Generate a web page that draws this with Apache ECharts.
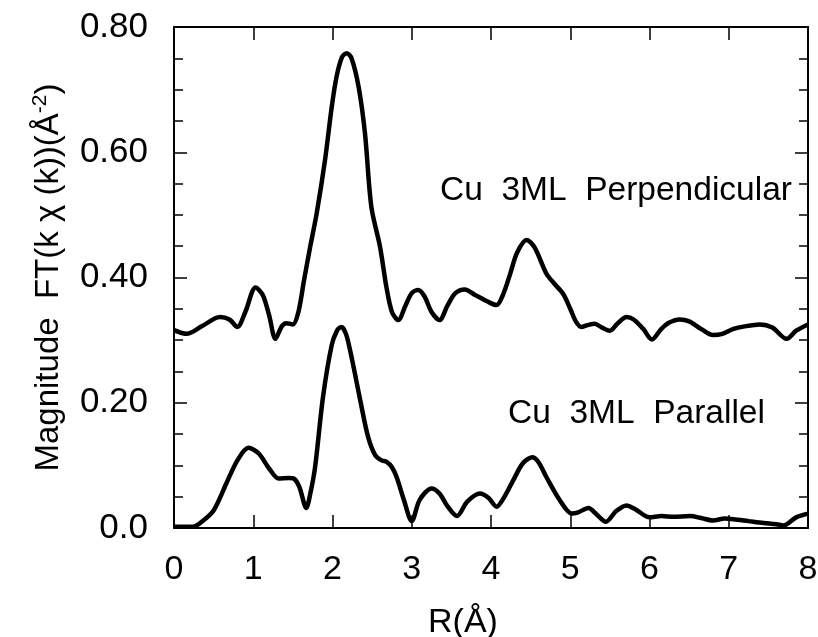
<!DOCTYPE html>
<html>
<head>
<meta charset="utf-8">
<script src="https://cdn.jsdelivr.net/npm/echarts@6/dist/echarts.min.js"></script>
<style>
html,body{margin:0;padding:0;background:#fff;}
#chart{width:818px;height:637px;}
</style>
</head>
<body>
<div id="chart"></div>
<script>
// R (Å) and magnitude values
const perpR = [0.00,0.16,0.35,0.58,0.70,0.80,0.90,1.03,1.12,1.20,1.28,1.36,1.42,1.50,1.57,1.64,1.72,1.80,1.905,1.99,2.05,2.12,2.18,2.24,2.33,2.41,2.49,2.60,2.68,2.75,2.83,2.92,3.00,3.08,3.16,3.25,3.35,3.45,3.55,3.67,3.80,3.95,4.07,4.15,4.24,4.33,4.45,4.55,4.70,4.80,4.91,5.00,5.07,5.14,5.22,5.31,5.40,5.50,5.60,5.71,5.80,5.92,6.03,6.15,6.25,6.38,6.50,6.65,6.80,6.92,7.06,7.20,7.39,7.55,7.73,7.85,8.00];
const perpMag = [0.316,0.310,0.322,0.337,0.333,0.321,0.345,0.384,0.372,0.340,0.302,0.322,0.327,0.325,0.345,0.395,0.450,0.502,0.587,0.672,0.720,0.752,0.758,0.750,0.704,0.630,0.513,0.449,0.385,0.345,0.332,0.355,0.375,0.380,0.370,0.345,0.332,0.355,0.375,0.381,0.372,0.362,0.356,0.372,0.405,0.440,0.460,0.448,0.406,0.390,0.374,0.350,0.330,0.321,0.324,0.326,0.320,0.315,0.327,0.337,0.333,0.318,0.301,0.318,0.328,0.333,0.330,0.318,0.308,0.310,0.318,0.322,0.325,0.320,0.302,0.315,0.325];

const paraR = [0.00,0.24,0.35,0.50,0.66,0.80,0.94,1.07,1.20,1.32,1.45,1.51,1.58,1.67,1.72,1.78,1.88,1.99,2.06,2.11,2.17,2.24,2.35,2.45,2.54,2.62,2.68,2.75,2.81,2.90,3.00,3.10,3.25,3.35,3.45,3.57,3.70,3.86,3.97,4.07,4.17,4.28,4.40,4.52,4.60,4.70,4.87,5.02,5.10,5.23,5.33,5.45,5.58,5.71,5.82,6.00,6.15,6.30,6.51,6.65,6.80,6.95,7.06,7.25,7.44,7.60,7.69,7.85,8.00];
const paraMag = [0.002,0.002,0.010,0.028,0.071,0.108,0.128,0.119,0.095,0.079,0.080,0.079,0.066,0.032,0.055,0.097,0.209,0.292,0.316,0.321,0.310,0.273,0.204,0.145,0.116,0.108,0.106,0.097,0.081,0.045,0.011,0.045,0.063,0.055,0.035,0.019,0.042,0.055,0.048,0.034,0.050,0.076,0.103,0.113,0.105,0.081,0.044,0.023,0.025,0.032,0.022,0.010,0.027,0.036,0.030,0.017,0.019,0.018,0.019,0.016,0.012,0.015,0.014,0.011,0.008,0.006,0.004,0.017,0.023];

const xTicks = [0,1,2,3,4,5,6,7,8];
const yTickLabels = {'0':'0.0','0.2':'0.20','0.4':'0.40','0.6':'0.60','0.8':'0.80'};
const seriesNames = ['Cu  3ML  Perpendicular','Cu  3ML  Parallel'];

const FONT = '"Liberation Sans", Arial, Helvetica, sans-serif';
const zip = (a, b) => a.map((v, i) => [v, b[i]]);

const chart = echarts.init(document.getElementById('chart'), null, {renderer: 'canvas'});

const axisLineStyle = {show: true, onZero: false, lineStyle: {color: '#000', width: 2}};
const tickStyle = {show: true, inside: true, length: 13, lineStyle: {color: '#000', width: 1.5}};
const minorStyle = {show: true, splitNumber: 4, length: 9, lineStyle: {color: '#000', width: 1.5}};

chart.setOption({
  animation: false,
  backgroundColor: '#fff',
  grid: {left: 174, right: 10, top: 27, bottom: 109, containLabel: false, outerBoundsMode: 'none'},
  xAxis: [{
    type: 'value', min: 0, max: 8, interval: 1, position: 'bottom',
    axisLine: axisLineStyle, axisTick: tickStyle,
    splitLine: {show: false},
    axisLabel: {show: true, margin: 25, color: '#000', fontSize: 34, fontFamily: FONT,
      formatter: v => xTicks.indexOf(v) >= 0 ? String(v) : ''},
    name: 'R(Å)', nameLocation: 'middle', nameGap: 78,
    nameTextStyle: {color: '#000', fontSize: 34, fontFamily: FONT, padding: [0, 56, 0, 0]}
  }, {
    type: 'value', min: 0, max: 8, interval: 1, position: 'top',
    axisLine: axisLineStyle, axisTick: tickStyle,
    axisLabel: {show: false}, splitLine: {show: false}
  }],
  yAxis: [{
    type: 'value', min: 0, max: 0.8, interval: 0.2, position: 'left',
    axisLine: axisLineStyle, axisTick: tickStyle, minorTick: minorStyle,
    splitLine: {show: false},
    axisLabel: {show: true, margin: 26, color: '#000', fontSize: 35, fontFamily: FONT,
      formatter: v => yTickLabels[String(Math.round(v * 10) / 10)] || ''},
    name: '{a|Magnitude  FT(k χ (k))(Å}{s|-2}{a|)}', nameLocation: 'middle', nameGap: 106, nameRotate: 90,
    nameTextStyle: {color: '#000', fontFamily: FONT,
      rich: {
        a: {fontSize: 33, fontFamily: FONT, color: '#000', lineHeight: 38},
        s: {fontSize: 21, fontFamily: FONT, color: '#000', verticalAlign: 'top', lineHeight: 38}
      }}
  }, {
    type: 'value', min: 0, max: 0.8, interval: 0.2, position: 'right',
    axisLine: axisLineStyle, axisTick: tickStyle, minorTick: minorStyle,
    splitLine: {show: false},
    axisLabel: {show: false}
  }],
  series: [{
    name: seriesNames[0], type: 'line', data: zip(perpR, perpMag), smooth: 0.3,
    showSymbol: false, lineStyle: {color: '#000', width: 4.5}, xAxisIndex: 0, yAxisIndex: 0
  }, {
    name: seriesNames[1], type: 'line', data: zip(paraR, paraMag), smooth: 0.3,
    showSymbol: false, lineStyle: {color: '#000', width: 4.5}, xAxisIndex: 0, yAxisIndex: 0
  }],
  graphic: [{
    type: 'text', left: 440, top: 174, silent: true,
    style: {text: seriesNames[0], font: '33.5px ' + FONT, fill: '#000'}
  }, {
    type: 'text', left: 508, top: 397, silent: true,
    style: {text: seriesNames[1], font: '33.5px ' + FONT, fill: '#000'}
  }]
});
</script>
</body>
</html>
